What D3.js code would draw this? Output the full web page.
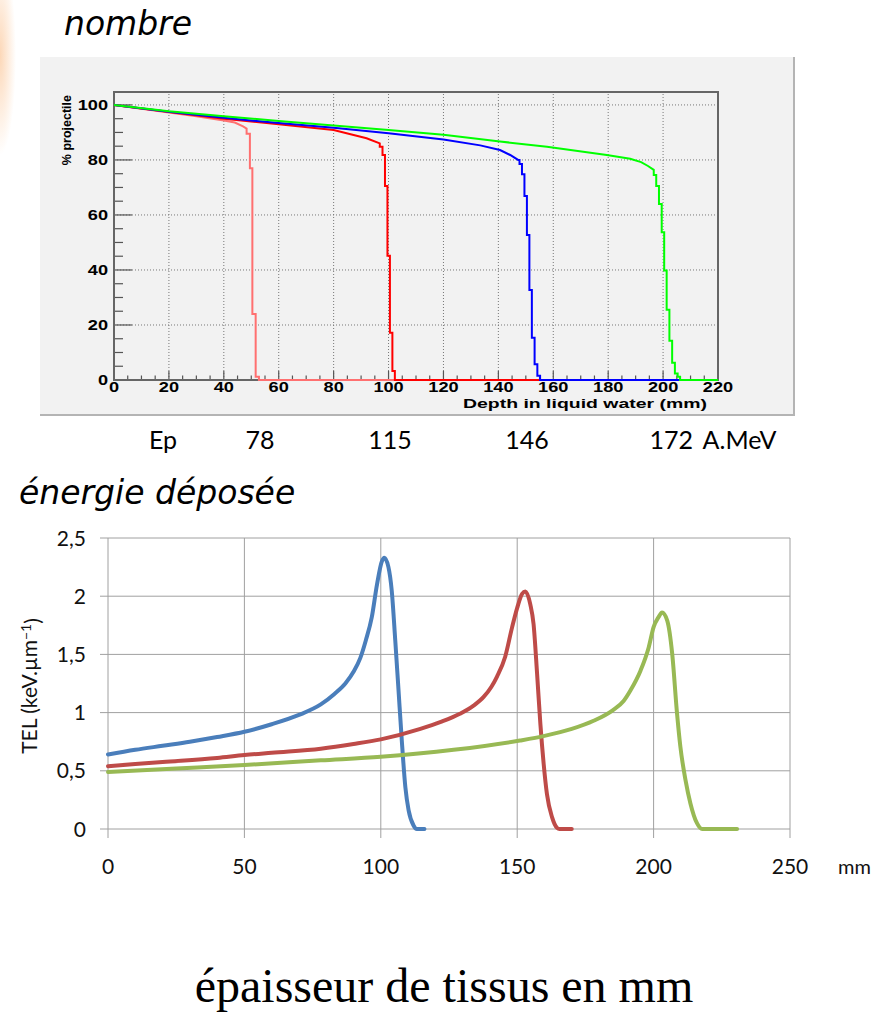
<!DOCTYPE html>
<html>
<head>
<meta charset="utf-8">
<script src="https://cdn.jsdelivr.net/npm/d3@7"></script>
<style>
  body { margin: 0; background: #fff; }
  svg { display: block; }
</style>
</head>
<body>
<div id="chart"></div>
<script>
// ---- top chart: % projectile vs depth (ROOT style histograms)
// smooth part [mm, %] then fall-off steps (bin edge mm, value after edge)
var nb78 = [[0,100],[10,98.6],[20,97.2],[30,95.9],[40,94.3],[44,93.6],[47,92.2],[48.3,91.4]];
var nb78Steps = [[48.3,89.5],[49.5,77],[50.4,24],[51.6,1.2],[52.8,0],[220,0]];
var nb115 = [[0,100],[20,97.4],[40,95],[60,93],[80,90.9],[92,87.9],[96.8,86]];
var nb115Steps = [[96.8,84.8],[97.8,81.8],[98.7,70.5],[99.6,45.2],[100.5,17.2],[101.4,3.3],[102.3,0],[220,0]];
var nb146 = [[0,100],[20,97.5],[40,95.3],[60,93.4],[80,91.7],[100,89.7],[120,87.4],[133.4,85.3],[140.6,83.6],[144.3,81.8],[147.2,80]];
var nb146Steps = [[147.7,78.5],[148.6,74.8],[149.5,66.9],[150.4,52.7],[151.3,32.7],[152.2,15.4],[153.2,5.7],[154.2,1.5],[155.2,0],[220,0]];
var nb172 = [[0,100],[20,97.7],[40,95.9],[60,94.2],[80,92.5],[100,90.9],[120,89.2],[140.6,86.7],[157.7,84.8],[179.5,81.8],[188,80.4],[192,79.2],[194.5,77.8],[196.6,76.4]];
var nb172Steps = [[196.6,74.5],[197.5,70.5],[198.5,64],[199.5,53.7],[200.4,39.8],[201.3,25.5],[202.3,14.3],[203.3,6.3],[204.3,2.4],[205.3,1.2],[206.2,0],[220,0]];
var topColors = ["#ff7070", "#ff0000", "#0000ff", "#00ff00"];
var topXTicks = [0,20,40,60,80,100,120,140,160,180,200,220];
var topYTicks = [0,20,40,60,80,100];

var energies = ["Ep", "78", "115", "146", "172 A.MeV"];

// ---- bottom chart: TEL vs depth
var telBlue = [[0,0.64],[10,0.68],[20,0.715],[30,0.75],[40,0.79],[50,0.835],[60,0.9],[70,0.98],[78,1.07],[83,1.16],[87,1.25],[90,1.35],[92.5,1.47],[94.5,1.62],[96.7,1.82],[98.6,2.1],[100.4,2.3],[101.3,2.33],[102.8,2.25],[104,2.05],[105.3,1.62],[106.5,1.19],[107.7,0.76],[109,0.36],[110.2,0.16],[112,0.03],[113.2,0],[116,0]];
var telRed = [[0,0.54],[20,0.575],[40,0.61],[50,0.635],[60,0.655],[78,0.69],[90,0.73],[100,0.77],[114.5,0.86],[122,0.92],[129,0.99],[134,1.06],[137.7,1.135],[140.5,1.22],[142.6,1.31],[145.6,1.48],[148.1,1.73],[150,1.9],[151.8,2.02],[153,2.04],[154.8,1.93],[156,1.76],[157.3,1.33],[158.5,0.9],[159.7,0.56],[160.9,0.3],[162.8,0.1],[164.6,0.01],[165.5,0],[170,0]];
var telGreen = [[0,0.49],[25,0.52],[50,0.55],[78,0.59],[100,0.62],[126.7,0.68],[151,0.76],[160,0.8],[170,0.86],[178,0.93],[185,1.02],[189,1.1],[191.5,1.19],[195.2,1.36],[198.2,1.56],[200,1.735],[201.8,1.82],[203.1,1.86],[205,1.79],[206.8,1.51],[208.6,0.99],[209.8,0.71],[211.7,0.42],[213.5,0.22],[215.9,0.05],[217.8,0],[230.6,0]];
var botColors = ["#4a7ebb", "#be4b48", "#98b954"];
var botXTicks = [0,50,100,150,200,250];
var botYTicks = [0,0.5,1,1.5,2,2.5];
var botYLabels = ["0","0,5","1","1,5","2","2,5"];

var W = 873, H = 1013;
var svg = d3.select("#chart").append("svg")
  .attr("width", W).attr("height", H);

// orange glow of the slide at left edge
var defs = svg.append("defs");
var glow = defs.append("radialGradient").attr("id", "glow");
glow.append("stop").attr("offset", "0%").attr("stop-color", "#f9b070").attr("stop-opacity", 0.5);
glow.append("stop").attr("offset", "100%").attr("stop-color", "#f9b070").attr("stop-opacity", 0);
svg.append("ellipse").attr("cx", 0).attr("cy", 55).attr("rx", 16).attr("ry", 100)
  .attr("fill", "url(#glow)");

var headFont = "'DejaVu Sans', sans-serif";
svg.append("text").attr("x", 64).attr("y", 35)
  .style("font-family", headFont).style("font-style", "italic").style("font-size", "33px")
  .text("nombre");

// ---------- top panel
var rootFont = "'Liberation Sans', Arial, sans-serif";
svg.append("rect").attr("x", 40).attr("y", 57).attr("width", 753).attr("height", 358)
  .attr("fill", "#f2f2f2");
svg.append("path").attr("d", "M40,415H794V57")
  .attr("fill", "none").attr("stroke", "#b4b4b4").attr("stroke-width", 2);

var xTop = d3.scaleLinear().domain([0, 220]).range([114, 718]);
var yTop = d3.scaleLinear().domain([0, 104.7]).range([380, 92]);

var gTop = svg.append("g");
// dotted grid
gTop.selectAll(".gx").data(topXTicks.slice(1, -1)).enter().append("line")
  .attr("x1", function(d) { return xTop(d); }).attr("x2", function(d) { return xTop(d); })
  .attr("y1", yTop(0)).attr("y2", yTop.range()[1])
  .attr("stroke", "#777").attr("stroke-dasharray", "1,2");
gTop.selectAll(".gy").data(topYTicks.slice(1)).enter().append("line")
  .attr("x1", xTop(0)).attr("x2", xTop(220))
  .attr("y1", function(d) { return yTop(d); }).attr("y2", function(d) { return yTop(d); })
  .attr("stroke", "#777").attr("stroke-dasharray", "1,2");

// ticks
var yMinor = d3.range(0, 105, 5);
gTop.selectAll(".ty").data(yMinor).enter().append("line")
  .attr("x1", xTop(0))
  .attr("x2", function(d) { return xTop(0) + (d % 20 === 0 ? 18 : 9); })
  .attr("y1", function(d) { return yTop(d); }).attr("y2", function(d) { return yTop(d); })
  .attr("stroke", "#555").attr("stroke-width", 1.2);
var xMinor = d3.range(0, 221, 5);
gTop.selectAll(".tx").data(xMinor).enter().append("line")
  .attr("x1", function(d) { return xTop(d); }).attr("x2", function(d) { return xTop(d); })
  .attr("y1", yTop(0))
  .attr("y2", function(d) { return yTop(0) - (d % 20 === 0 ? 9 : 4.5); })
  .attr("stroke", "#555").attr("stroke-width", 1.2);

// frame
gTop.append("rect").attr("x", xTop(0)).attr("y", yTop.range()[1])
  .attr("width", xTop(220) - xTop(0)).attr("height", yTop(0) - yTop.range()[1])
  .attr("fill", "none").attr("stroke", "#666").attr("stroke-width", 2);

// curves
function histoPoints(smooth, steps) {
  var pts = smooth.slice();
  var last = pts[pts.length - 1][1];
  steps.forEach(function(s) {
    pts.push([s[0], last]);
    pts.push([s[0], s[1]]);
    last = s[1];
  });
  return pts;
}
var topLine = d3.line()
  .x(function(d) { return xTop(d[0]); })
  .y(function(d) { return yTop(d[1]); });
var topSeries = [histoPoints(nb78, nb78Steps), histoPoints(nb115, nb115Steps),
                 histoPoints(nb146, nb146Steps), histoPoints(nb172, nb172Steps)];
gTop.selectAll(".curve").data(topSeries).enter().append("path")
  .attr("d", topLine)
  .attr("fill", "none")
  .attr("stroke", function(d, i) { return topColors[i]; })
  .attr("stroke-width", 2);

// labels (ROOT fonts look stretched in the picture)
gTop.selectAll(".ly").data(topYTicks).enter().append("text")
  .attr("transform", function(d) { return "translate(108," + yTop(d) + ") scale(1.3,1)"; })
  .attr("dy", "0.36em")
  .attr("text-anchor", "end")
  .style("font-family", rootFont).style("font-weight", "bold").style("font-size", "14px")
  .text(function(d) { return d; });
gTop.selectAll(".lx").data(topXTicks).enter().append("text")
  .attr("transform", function(d) { return "translate(" + xTop(d) + ",392) scale(1.3,1)"; })
  .attr("text-anchor", "middle")
  .style("font-family", rootFont).style("font-weight", "bold").style("font-size", "14px")
  .text(function(d) { return d; });
gTop.append("text").attr("x", 707).attr("y", 408).attr("text-anchor", "end")
  .attr("textLength", 244).attr("lengthAdjust", "spacingAndGlyphs")
  .style("font-family", rootFont).style("font-weight", "bold").style("font-size", "13.5px")
  .text("Depth in liquid water (mm)");
gTop.append("text").attr("transform", "translate(71,95) rotate(-90)")
  .attr("text-anchor", "end")
  .style("font-family", rootFont).style("font-weight", "bold").style("font-size", "12.5px")
  .text("% projectile");

// energy row
var energyX = [163, 260, 390, 527, 713];
svg.selectAll(".en").data(energies).enter().append("text")
  .attr("x", function(d, i) { return energyX[i]; }).attr("y", 449)
  .attr("text-anchor", "middle")
  .style("font-family", "Lato, sans-serif").style("font-size", "25px")
  .style("word-spacing", "4px")
  .text(function(d) { return d; });

svg.append("text").attr("x", 19).attr("y", 504)
  .style("font-family", headFont).style("font-style", "italic").style("font-size", "33px")
  .text("énergie déposée");

// ---------- bottom chart
var xBot = d3.scaleLinear().domain([0, 250]).range([108, 790]);
var yBot = d3.scaleLinear().domain([0, 2.5]).range([829, 538]);
var gBot = svg.append("g");
var gridC = "#a0a0a0";
gBot.selectAll(".hy").data(botYTicks).enter().append("line")
  .attr("x1", xBot(0) - 8).attr("x2", xBot(250))
  .attr("y1", function(d) { return yBot(d); }).attr("y2", function(d) { return yBot(d); })
  .attr("stroke", gridC).attr("stroke-width", 1);
gBot.selectAll(".vx").data(botXTicks).enter().append("line")
  .attr("x1", function(d) { return xBot(d); }).attr("x2", function(d) { return xBot(d); })
  .attr("y1", yBot(2.5)).attr("y2", yBot(0) + 9)
  .attr("stroke", gridC).attr("stroke-width", 1);

var botLine = d3.line()
  .x(function(d) { return xBot(d[0]); })
  .y(function(d) { return yBot(d[1]); })
  .curve(d3.curveMonotoneX);
gBot.selectAll(".tel").data([telBlue, telRed, telGreen]).enter().append("path")
  .attr("d", botLine)
  .attr("fill", "none")
  .attr("stroke", function(d, i) { return botColors[i]; })
  .attr("stroke-width", 4)
  .attr("stroke-linecap", "round").attr("stroke-linejoin", "round");

var botFont = "Lato, sans-serif";
gBot.selectAll(".by").data(botYTicks).enter().append("text")
  .attr("x", 86).attr("y", function(d) { return yBot(d); }).attr("dy", "0.36em")
  .attr("text-anchor", "end")
  .style("font-family", botFont).style("font-size", "21px").attr("fill", "#111")
  .text(function(d, i) { return botYLabels[i]; });
gBot.selectAll(".bx").data(botXTicks).enter().append("text")
  .attr("x", function(d) { return xBot(d); }).attr("y", 874)
  .attr("text-anchor", "middle")
  .style("font-family", botFont).style("font-size", "21px").attr("fill", "#111")
  .text(function(d) { return d; });
gBot.append("text").attr("x", 838).attr("y", 874)
  .style("font-family", botFont).style("font-size", "20px").attr("fill", "#111")
  .text("mm");
var yt = gBot.append("text").attr("transform", "translate(37,686) rotate(-90)")
  .attr("text-anchor", "middle")
  .style("font-family", botFont).style("font-size", "21px").attr("fill", "#111");
yt.append("tspan").text("TEL (keV.µm");
yt.append("tspan").attr("dy", "-0.45em").style("font-size", "14px").text("−1");
yt.append("tspan").attr("dy", "0.45em").text(")");

svg.append("text").attr("x", 444).attr("y", 1002).attr("text-anchor", "middle")
  .style("font-family", "'Liberation Serif', 'Times New Roman', serif").style("font-size", "48px")
  .text("épaisseur de tissus en mm");
</script>
</body>
</html>
